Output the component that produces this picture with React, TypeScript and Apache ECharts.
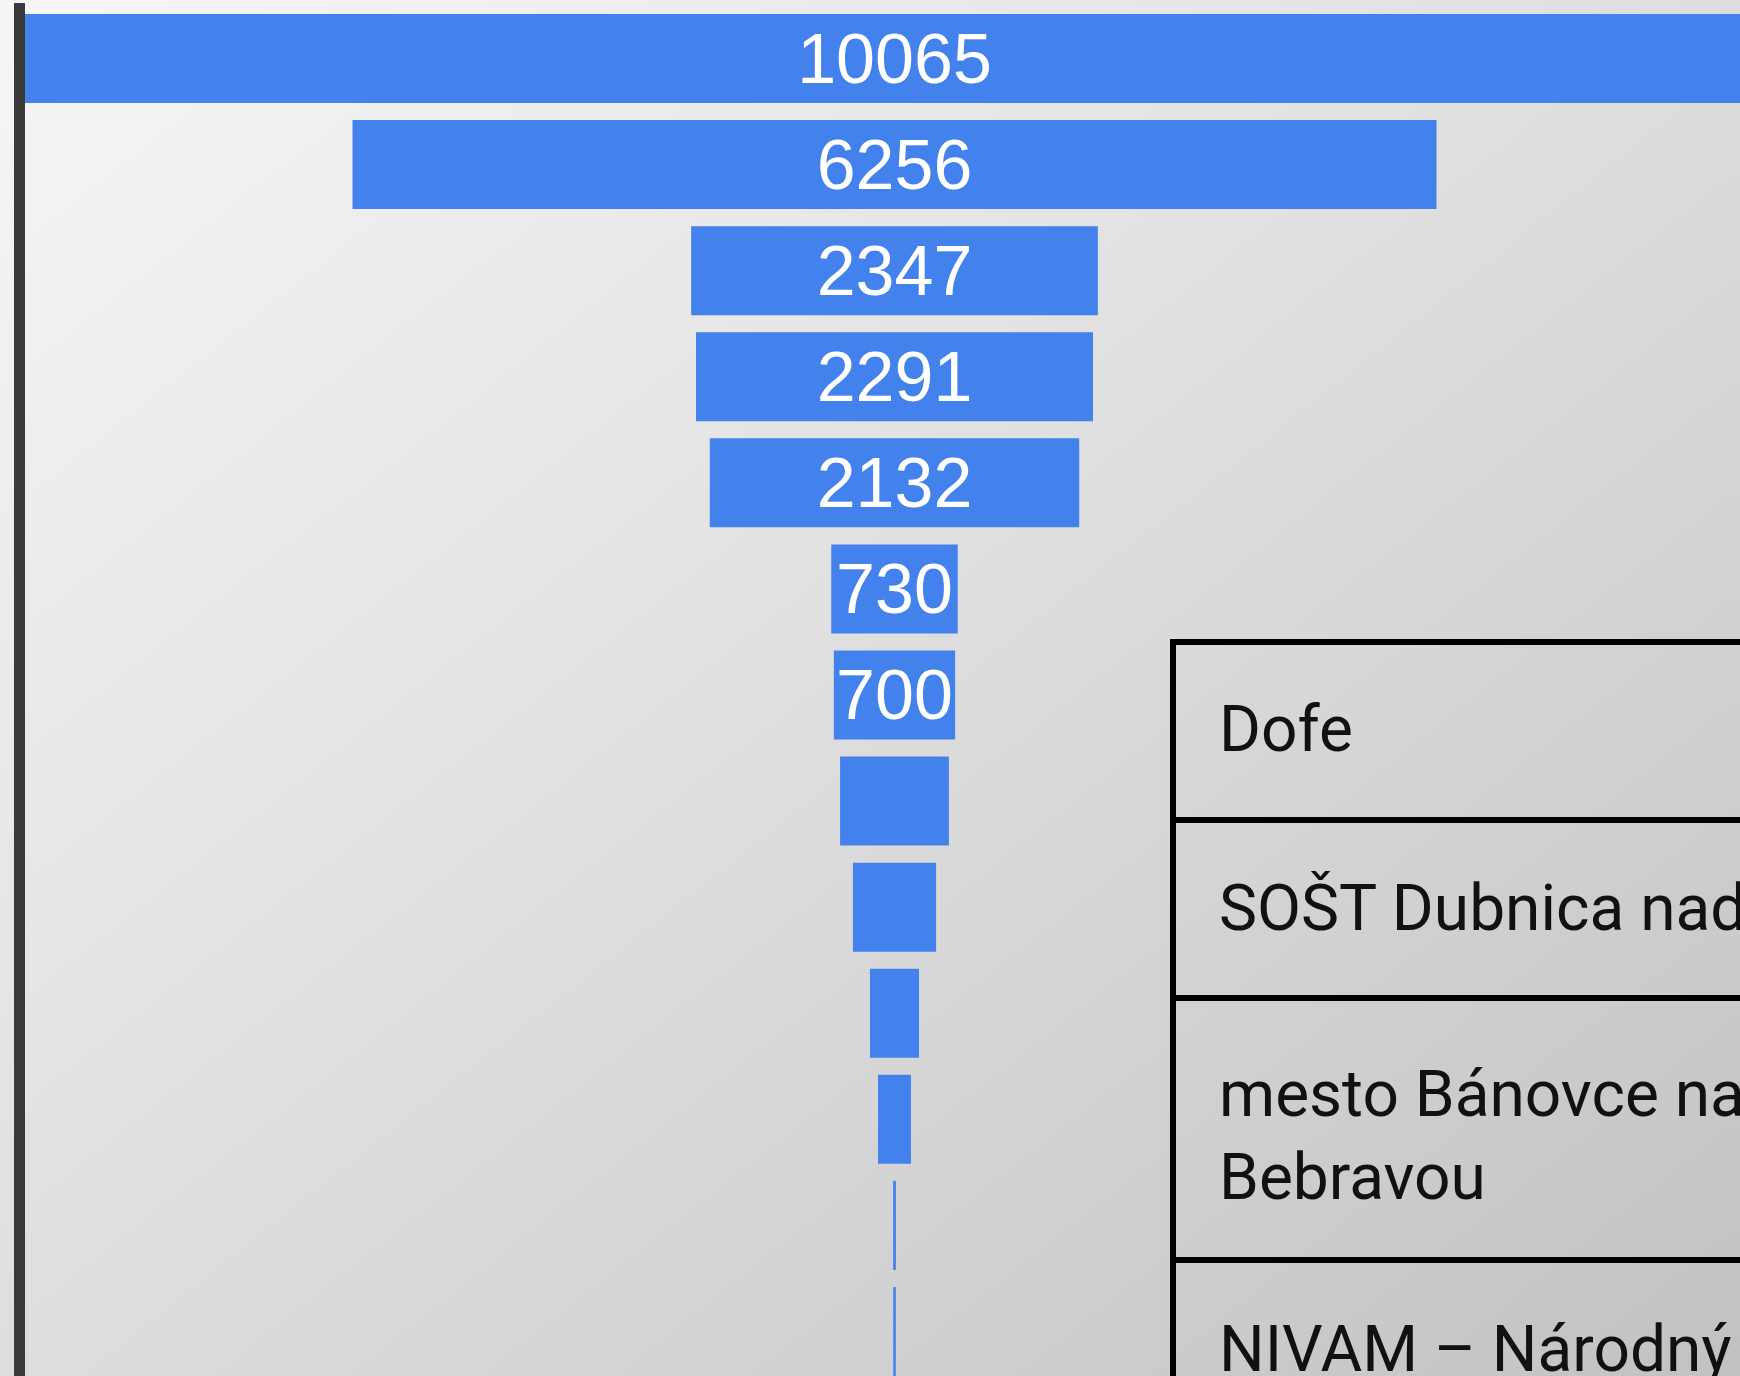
import React, { useEffect, useRef } from "react";
import * as echarts from "echarts";

// Funnel values, top to bottom
const funnelNames = [
  "Položka 1", "Položka 2", "Položka 3", "Položka 4", "Položka 5", "Položka 6", "Položka 7",
  "Položka 8", "Položka 9", "Položka 10", "Položka 11", "Položka 12", "Položka 13",
];
const funnelValues = [10065, 6256, 2347, 2291, 2132, 730, 700, 628, 480, 283, 190, 16, 15];
const labelledCount = 7;

// Table rows on the right (each row may hold several lines), as visible in the crop
const tableRows: string[][] = [
  ["Dofe"],
  ["SOŠT Dubnica nad"],
  ["mesto Bánovce na", "Bebravou"],
  ["NIVAM – Národný i"],
];

export default function App() {
  const ref = useRef<HTMLDivElement>(null);

  useEffect(() => {
    if (!ref.current) return;
    const chart = echarts.init(ref.current, null, { renderer: "svg" });

    const maxV = Math.max(...funnelValues);

    // table geometry
    const tableLeft = 1173;
    const lineYs = [642, 820, 998, 1260];
    const textX = 1219;
    const textFont = { fontFamily: "Roboto", fontSize: 64, fill: "#111111" };
    const textLines: { text: string; y: number }[] = [
      { text: tableRows[0][0], y: 729 },
      { text: tableRows[1][0], y: 908 },
      { text: tableRows[2][0], y: 1094 },
      { text: tableRows[2][1], y: 1177 },
      { text: tableRows[3][0], y: 1349 },
    ];

    const graphics: any[] = [
      {
        type: "rect",
        z: 100,
        shape: { x: 14, y: 3, width: 11, height: 1380 },
        style: { fill: "#3a3a3a" },
      },
      {
        type: "line",
        z: 100,
        shape: { x1: tableLeft, y1: lineYs[0] - 3, x2: tableLeft, y2: 1380 },
        style: { stroke: "#000", lineWidth: 6 },
      },
      ...lineYs.map((y) => ({
        type: "line",
        z: 100,
        shape: { x1: tableLeft - 3, y1: y, x2: 1760, y2: y },
        style: { stroke: "#000", lineWidth: 6 },
      })),
      ...textLines.map((t) => ({
        type: "text",
        z: 100,
        x: textX,
        y: t.y,
        style: {
          text: t.text,
          ...textFont,
          textAlign: "left",
          textVerticalAlign: "middle",
        },
      })),
    ];

    chart.setOption({
      animation: false,
      backgroundColor: {
        type: "linear",
        x: 0,
        y: 0,
        x2: 1,
        y2: 1,
        colorStops: [
          { offset: 0, color: "#f6f6f6" },
          { offset: 0.35, color: "#e6e6e6" },
          { offset: 1, color: "#c2c2c2" },
        ],
      },
      grid: {
        left: 22.5,
        top: 5.5,
        width: 1744,
        height: 1379,
        containLabel: false,
        outerBoundsMode: "none",
      },
      xAxis: { type: "value", min: 0, max: maxV, show: false },
      yAxis: {
        type: "category",
        data: funnelNames,
        inverse: true,
        show: false,
      },
      series: [
        {
          type: "bar",
          stack: "funnel",
          silent: true,
          barWidth: 89,
          itemStyle: { color: "rgba(0,0,0,0)" },
          data: funnelValues.map((v) => (maxV - v) / 2),
        },
        {
          type: "bar",
          stack: "funnel",
          silent: true,
          barWidth: 89,
          itemStyle: { color: "#4381ED" },
          label: {
            show: true,
            position: "inside",
            color: "#ffffff",
            fontSize: 70,
            fontFamily: "Liberation Sans",
            formatter: "{c}",
          },
          data: funnelValues.map((v, i) => ({
            value: v,
            label: { show: i < labelledCount },
          })),
        },
      ],
      graphic: graphics,
    });

    return () => chart.dispose();
  }, []);

  return (
    <div
      ref={ref}
      style={{ position: "absolute", left: 0, top: 0, width: 1740, height: 1376 }}
    />
  );
}
